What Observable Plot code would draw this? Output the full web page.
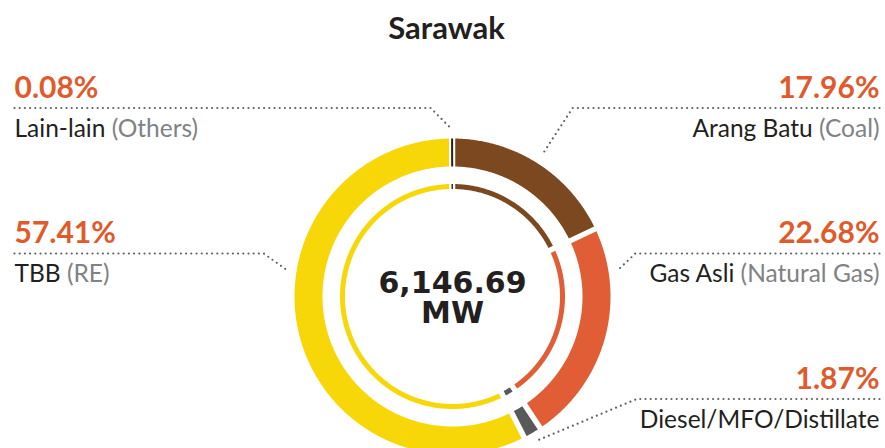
<!DOCTYPE html>
<html>
<head>
<meta charset="utf-8">
<script src="https://cdn.jsdelivr.net/npm/d3@7"></script>
<script src="https://cdn.jsdelivr.net/npm/@observablehq/plot@0.6"></script>
<style>
  html, body { margin: 0; padding: 0; background: #ffffff; overflow: hidden; }
  #chart svg { display: block; }
</style>
</head>
<body>
<div id="chart"></div>
<script>
// ---------------- data ----------------
const chartTitle = "Sarawak";
const categories = ["Arang Batu", "Gas Asli", "Diesel/MFO/Distillate", "TBB", "Lain-lain"];
const englishNames = ["Coal", "Natural Gas", "", "RE", "Others"];
const shares = [17.96, 22.68, 1.87, 57.41, 0.08];
const colors = ["#7b481f", "#e05d35", "#58595b", "#f8d709", "#231f20"];
const totalCapacity = "6,146.69";
const capacityUnit = "MW";

// ---------------- layout ----------------
const W = 885, H = 448;
const CX = 452, CY = 296;
const OUTER = [130, 158], INNER = [107.5, 112.5];
const GAP = 5.5;
const LEFT_X = 14, RIGHT_X = 879;
const ROW_STEP = 145.5;
const PCT_BASE = 97, LINE_BASE = 107.5, NAME_BASE = 136;
const LEAD_R = 167;
// label placement per category (same order as categories)
const labelSide = ["right", "right", "right", "left", "left"];
const labelRow = [0, 1, 2, 1, 0];
const leaderRun = [0.65, 1.05, 2.4, 1.4, 1.0];

const total = d3.sum(shares);
let acc = 0;
const segs = categories.map((c, i) => {
  const a0 = acc / total * 2 * Math.PI;
  acc += shares[i];
  const a1 = acc / total * 2 * Math.PI;
  return {category: c, i, a0, a1};
});

const px = (r, a) => CX + r * Math.sin(a);
const py = (r, a) => CY - r * Math.cos(a);

function ringPoints(seg, r0, r1, ring, minW) {
  function span(r) {
    const half = Math.asin(GAP / 2 / r);
    let s = seg.a0 + half, e = seg.a1 - half;
    if ((e - s) * r < minW) {
      const m = (seg.a0 + seg.a1) / 2, h = Math.asin(minW / 2 / r);
      s = m - h; e = m + h;
    }
    return [s, e];
  }
  const [s1, e1] = span(r1), [s0, e0] = span(r0);
  const pts = [];
  const step = Math.PI / 360;
  const n1 = Math.max(2, Math.ceil((e1 - s1) / step));
  for (let k = 0; k <= n1; k++) { const a = s1 + (e1 - s1) * k / n1; pts.push({x: px(r1, a), y: py(r1, a)}); }
  const n0 = Math.max(2, Math.ceil((e0 - s0) / step));
  for (let k = n0; k >= 0; k--) { const a = s0 + (e0 - s0) * k / n0; pts.push({x: px(r0, a), y: py(r0, a)}); }
  return pts.map(p => ({...p, key: ring + seg.i, category: seg.category}));
}

const ringData = [
  ...segs.flatMap(s => ringPoints(s, OUTER[0], OUTER[1], "o", 2)),
  ...segs.flatMap(s => ringPoints(s, INNER[0], INNER[1], "i", 1.4))
];

// labels
const labels = segs.map(s => {
  const side = labelSide[s.i], row = labelRow[s.i];
  const lineY = LINE_BASE + ROW_STEP * row;
  const sign = side === "right" ? 1 : -1;
  let ang = (s.a0 + s.a1) / 2;
  const ty = lineY + 17 - CY;
  if (Math.abs(ty) < LEAD_R) {
    const tx = sign * Math.sqrt(LEAD_R * LEAD_R - ty * ty);
    let a = Math.atan2(tx, -ty);
    if (a < 0) a += 2 * Math.PI;
    const margin = 0.05;
    if (a > s.a0 + margin && a < s.a1 - margin) ang = a;
  }
  const ax = px(LEAD_R, ang), ay = py(LEAD_R, ang);
  const ex = ax + sign * (ay - lineY) * leaderRun[s.i];
  return {
    category: s.category, english: englishNames[s.i], share: shares[s.i], side,
    tx: side === "right" ? RIGHT_X : LEFT_X,
    pctY: PCT_BASE + ROW_STEP * row,
    nameY: NAME_BASE + ROW_STEP * row,
    lineY, ax, ay, ex
  };
});

const leaderData = labels.flatMap(l => [
  {x: l.tx, y: l.lineY, category: l.category},
  {x: l.ex, y: l.lineY, category: l.category},
  {x: l.ax, y: l.ay, category: l.category}
]);

const nameText = d => d.category + (d.english ? " (" + d.english + ")" : "");
const pctText = d => d.share.toFixed(2) + "%";
const right = labels.filter(d => d.side === "right");
const left = labels.filter(d => d.side === "left");

const pctStyle = {fontFamily: "Lato", fontWeight: 700, fontSize: 30, fill: "#e05a2b", lineAnchor: "bottom"};
const nameStyle = {fontFamily: "Lato", fontWeight: 400, fontSize: 24.5, fill: "#231f20", lineAnchor: "bottom"};

const svg = Plot.plot({
  width: W, height: H,
  margin: 0,
  style: {background: "#ffffff", overflow: "hidden"},
  x: {domain: [0, W], range: [0, W], axis: null},
  y: {domain: [0, H], range: [0, H], axis: null},
  color: {domain: categories, range: colors},
  marks: [
    Plot.line(ringData, {x: "x", y: "y", z: "key", fill: "category", stroke: "none", curve: "linear"}),
    Plot.line(leaderData, {x: "x", y: "y", z: "category", stroke: "#5f6062", strokeWidth: 2.2, strokeDasharray: "0,5.2", strokeLinecap: "round", curve: "linear"}),
    Plot.text(right, {x: "tx", y: "pctY", text: pctText, textAnchor: "end", ...pctStyle}),
    Plot.text(left, {x: "tx", y: "pctY", text: pctText, textAnchor: "start", ...pctStyle}),
    Plot.text(right, {x: "tx", y: "nameY", text: nameText, textAnchor: "end", ...nameStyle}),
    Plot.text(left, {x: "tx", y: "nameY", text: nameText, textAnchor: "start", ...nameStyle}),
    Plot.text([chartTitle], {x: () => 446, y: () => 38, text: d => d, fontFamily: "Lato", fontWeight: 700, fontSize: 31, fill: "#231f20", lineAnchor: "bottom", textAnchor: "middle"}),
    Plot.text([totalCapacity + "\n" + capacityUnit], {x: () => CX, y: () => 322, text: d => d, lineHeight: 1, fontFamily: "DejaVu Sans", fontWeight: 700, fontSize: 30, fill: "#231f20", lineAnchor: "bottom", textAnchor: "middle"})
  ]
});

// colour the English part of each name grey
const fullNames = labels.map(nameText);
d3.select(svg).selectAll("text").each(function () {
  const t = this.textContent;
  if (!fullNames.includes(t)) return;
  const k = t.indexOf(" (");
  if (k >= 0) {
    const sel = d3.select(this);
    sel.text(null);
    sel.append("tspan").text(t.slice(0, k) + " ");
    sel.append("tspan").attr("fill", "#808285").text(t.slice(k + 1));
  }
});

document.getElementById("chart").appendChild(svg);
</script>
</body>
</html>
